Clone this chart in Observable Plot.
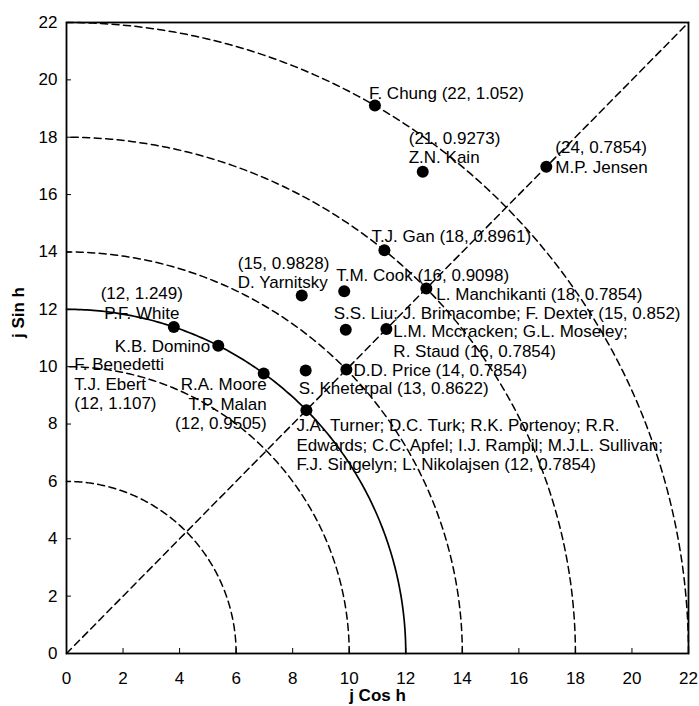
<!DOCTYPE html>
<html>
<head>
<meta charset="utf-8">
<script src="https://cdn.jsdelivr.net/npm/d3@7"></script>
<script src="https://cdn.jsdelivr.net/npm/@observablehq/plot@0.6"></script>
<style>
  html, body { margin: 0; padding: 0; background: #fff; }
</style>
</head>
<body>
<div id="chart"></div>
<script>
// h-index (j) and angle (h, radians) for each labelled author group
const labelTexts = [
  "F. Chung (22, 1.052)",
  "(21, 0.9273)\nZ.N. Kain",
  "(24, 0.7854)\nM.P. Jensen",
  "T.J. Gan (18, 0.8961)",
  "T.M. Cook (16, 0.9098)",
  "(15, 0.9828)\nD. Yarnitsky",
  "L. Manchikanti (18, 0.7854)",
  "(12, 1.249)\nP.F. White",
  "S.S. Liu; J. Brimacombe; F. Dexter (15, 0.852)",
  "L.M. Mccracken; G.L. Moseley;\nR. Staud (16, 0.7854)",
  "K.B. Domino",
  "F. Benedetti\nT.J. Ebert\n(12, 1.107)",
  "R.A. Moore\nT.P. Malan\n(12, 0.9505)",
  "S. Kheterpal (13, 0.8622)",
  "D.D. Price (14, 0.7854)",
  "J.A. Turner; D.C. Turk; R.K. Portenoy; R.R.\nEdwards; C.C. Apfel; I.J. Rampil; M.J.L. Sullivan;\nF.J. Singelyn; L. Nikolajsen (12, 0.7854)"
];
const hIndex = [22, 21, 24, 18, 16, 15, 18, 12, 15, 16, 12, 12, 12, 13, 14, 12];
const theta  = [1.052, 0.9273, 0.7854, 0.8961, 0.9098, 0.9828, 0.7854, 1.249, 0.852, 0.7854, 1.107, 1.107, 0.9505, 0.8622, 0.7854, 0.7854];

// reference circles (radius in h-index units)
const dashedRadii = [6, 10, 14, 18, 22];
const solidRadii = [12];
const axisTicks = [0, 2, 4, 6, 8, 10, 12, 14, 16, 18, 20, 22];

// label layout (pixel offsets from the point)
const labelDx = [-6, -14, 9, -13, -8, -64, 10, -32, -12, 7, -8, -144, 3, -7, 7, -10];
const labelDy = [-13, -24.5, -10, -15, -17, -23.5, 5, -24.5, -17, 12, 0, 38, 30, 17, 0, 34.5];
const labelAnchor = ["start", "start", "start", "start", "start", "start", "start", "middle", "start", "start", "end", "start", "end", "start", "start", "start"];

const rows = labelTexts.map((t, i) => ({
  text: t,
  x: hIndex[i] * Math.cos(theta[i]),
  y: hIndex[i] * Math.sin(theta[i]),
  dx: labelDx[i], dy: labelDy[i], anchor: labelAnchor[i]
}));
const pts = rows.filter((r, i) => i !== 10);

function arc(r) {
  return d3.range(0, 181).map(k => {
    const a = (Math.PI / 2) * k / 180;
    return {x: r * Math.cos(a), y: r * Math.sin(a), r};
  });
}
const dashedArcs = dashedRadii.flatMap(arc);
const solidArcs = solidRadii.flatMap(arc);

const marks = [
  Plot.line(dashedArcs, {x: "x", y: "y", z: "r", stroke: "#000", strokeWidth: 1.5, strokeDasharray: "7,4.5"}),
  Plot.line(solidArcs, {x: "x", y: "y", z: "r", stroke: "#000", strokeWidth: 1.7}),
  Plot.line([{x: 0, y: 0}, {x: 22, y: 22}], {x: "x", y: "y", stroke: "#000", strokeWidth: 1.5, strokeDasharray: "7,4.5"}),
  Plot.frame({stroke: "#000", strokeWidth: 1.8}),
  Plot.axisX({ticks: axisTicks, tickSize: -5, tickPadding: 23, label: null, fontSize: 17}),
  Plot.axisY({ticks: axisTicks, tickSize: -5, tickPadding: 14, label: null, fontSize: 17}),
  Plot.dot(pts, {x: "x", y: "y", r: 6, fill: "#000", stroke: "none"}),
  ...rows.map(r => Plot.text([r], {x: "x", y: "y", text: "text", dx: r.dx, dy: r.dy, textAnchor: r.anchor, lineHeight: 1.15, fill: "#000", fontSize: 17})),
  Plot.text(["j Cos h"], {frameAnchor: "bottom", lineAnchor: "middle", dy: 42, fontWeight: "bold", fontSize: 17, fill: "#000"}),
  Plot.text(["j Sin h"], {frameAnchor: "left", lineAnchor: "middle", dx: -48, rotate: -90, fontWeight: "bold", fontSize: 17, fill: "#000"})
];

const chart = Plot.plot({
  width: 699,
  height: 706,
  marginLeft: 66,
  marginRight: 11,
  marginTop: 22,
  marginBottom: 53,
  x: {domain: [0, 22]},
  y: {domain: [0, 22]},
  style: {fontFamily: "'Liberation Sans', Arial, sans-serif", fontSize: "17px", color: "#000", background: "#fff"},
  marks
});
document.getElementById("chart").appendChild(chart);
</script>
</body>
</html>
